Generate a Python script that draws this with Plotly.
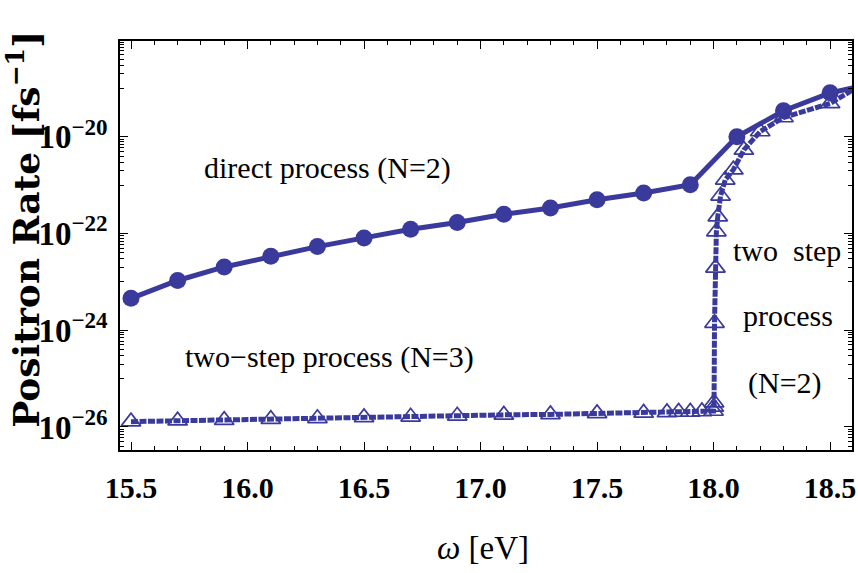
import plotly.graph_objects as go

# ---------------- data ----------------
omega_direct = [15.5, 15.7, 15.9, 16.1, 16.3, 16.5, 16.7, 16.9, 17.1, 17.3, 17.5, 17.7, 17.9,
                18.1, 18.3, 18.5]
rate_direct = [4.57e-24, 1.07e-23, 2.04e-23, 3.39e-23, 5.37e-23, 8.13e-23, 1.23e-22, 1.70e-22,
               2.51e-22, 3.39e-22, 5.01e-22, 6.92e-22, 1.02e-21,
               1.00e-20, 3.47e-20, 8.13e-20]

omega_twostep = [15.5, 15.7, 15.9, 16.1, 16.3, 16.5, 16.7, 16.9, 17.1, 17.3, 17.5, 17.7,
                 17.8, 17.85, 17.9, 17.95, 18.0, 18.001, 18.002,
                 18.004, 18.008, 18.012, 18.018, 18.03, 18.05, 18.085, 18.13, 18.2, 18.3, 18.5]
rate_twostep = [1.29e-26, 1.35e-26, 1.38e-26, 1.45e-26, 1.51e-26, 1.58e-26, 1.62e-26, 1.70e-26,
                1.78e-26, 1.82e-26, 1.91e-26, 1.95e-26,
                2.00e-26, 2.04e-26, 2.04e-26, 2.09e-26, 2.14e-26, 2.6e-26, 3.2e-26,
                1.41e-24, 1.95e-23, 1.10e-22, 2.24e-22, 6.03e-22, 1.29e-21, 2.09e-21, 5.37e-21,
                1.29e-20, 2.51e-20, 4.90e-20]

# curve continuation past the last sample (beyond right frame edge)
omega_tail = [18.62]
rate_tail = [1.08e-19]

x_tick_vals = [15.5, 16.0, 16.5, 17.0, 17.5, 18.0, 18.5]
x_tick_text = ["15.5", "16.0", "16.5", "17.0", "17.5", "18.0", "18.5"]
y_tick_exps = [-26, -24, -22, -20, -18]
y_tick_text = ["10<sup>\u221226</sup>", "10<sup>\u221224</sup>", "10<sup>\u221222</sup>",
               "10<sup>\u221220</sup>", "10<sup>\u221218</sup>"]

labels = ["direct process (N=2)", "two\u2212step process (N=3)", "two  step", "process", "(N=2)"]
x_title = "<i>\u03c9</i> [eV]"
y_title = "Positron Rate [fs<sup>\u22121</sup>]"

# ---------------- style ----------------
BLUE = "#3a3a9c"
SERIF = "Liberation Serif"

y_minor = []
for e in [-27, -25, -23, -21, -19]:
    for k in range(1, 10):
        y_minor.append(k * 10.0 ** e)

fig = go.Figure()

# two-step curve
fig.add_trace(go.Scatter(
    x=omega_twostep + omega_tail, y=rate_twostep + rate_tail, mode="lines",
    line=dict(color=BLUE, width=5, dash="7px,1.5px"), showlegend=False, hoverinfo="skip"))
# direct curve
fig.add_trace(go.Scatter(
    x=omega_direct + omega_tail, y=rate_direct + rate_tail, mode="lines",
    line=dict(color=BLUE, width=5), showlegend=False, hoverinfo="skip"))
# markers
fig.add_trace(go.Scatter(
    x=omega_twostep, y=rate_twostep, mode="markers",
    marker=dict(symbol="triangle-up-open", size=17, color=BLUE, line=dict(width=1.7, color=BLUE)),
    showlegend=False))
fig.add_trace(go.Scatter(
    x=omega_direct, y=rate_direct, mode="markers",
    marker=dict(symbol="circle", size=17, color=BLUE), showlegend=False))

fig.update_xaxes(
    automargin=False,
    range=[15.4528, 18.594], showline=True, linecolor="black", linewidth=1.5, mirror="ticks",
    ticks="inside", ticklen=8, tickwidth=1, tickcolor="black",
    tickvals=x_tick_vals, ticktext=x_tick_text, ticklabelstandoff=10,
    tickfont=dict(family=SERIF, size=30, color="black", weight="bold"),
    minor=dict(dtick=0.1, tick0=15.5, ticks="inside", ticklen=4, tickcolor="black", tickwidth=1),
    showgrid=False, zeroline=False)
fig.update_yaxes(
    automargin=False,
    type="log", range=[-26.476, -18.018], showline=True, linecolor="black", linewidth=1.5,
    mirror="ticks", ticks="inside", ticklen=8, tickwidth=1, tickcolor="black",
    tickvals=[10.0 ** e for e in y_tick_exps], ticktext=y_tick_text, ticklabelstandoff=4,
    tickfont=dict(family=SERIF, size=33, color="black", weight="bold"),
    minor=dict(tickvals=y_minor, ticks="inside", ticklen=4, tickcolor="black", tickwidth=1),
    showgrid=False, zeroline=False)

ann_font = dict(family=SERIF, size=30, color="black")
label_pos = [(16.345, -20.64), (16.35, -24.55), (18.315, -22.34), (18.32, -23.70), (18.307, -25.09)]
for txt, (ax, ay) in zip(labels, label_pos):
    fig.add_annotation(x=ax, y=ay, xref="x", yref="y", text=txt, showarrow=False,
                       font=ann_font, xanchor="center", yanchor="middle")

fig.add_annotation(x=0.496, y=-0.24, xref="paper", yref="paper", text=x_title, showarrow=False,
                   font=dict(family=SERIF, size=33, color="black"), xanchor="center", yanchor="middle")
fig.add_annotation(x=-0.133, y=0.54, xref="paper", yref="paper", text=y_title, showarrow=False,
                   textangle=-90, font=dict(family="DejaVu Serif", size=36, color="black", weight="bold"),
                   xanchor="center", yanchor="middle")

fig.update_layout(
    width=858, height=573, margin=dict(l=120, r=6, t=41, b=123, autoexpand=False),
    paper_bgcolor="white", plot_bgcolor="white")

fig.write_html("out.html", config={"displayModeBar": False},
               post_script="document.body.style.margin='0';")
